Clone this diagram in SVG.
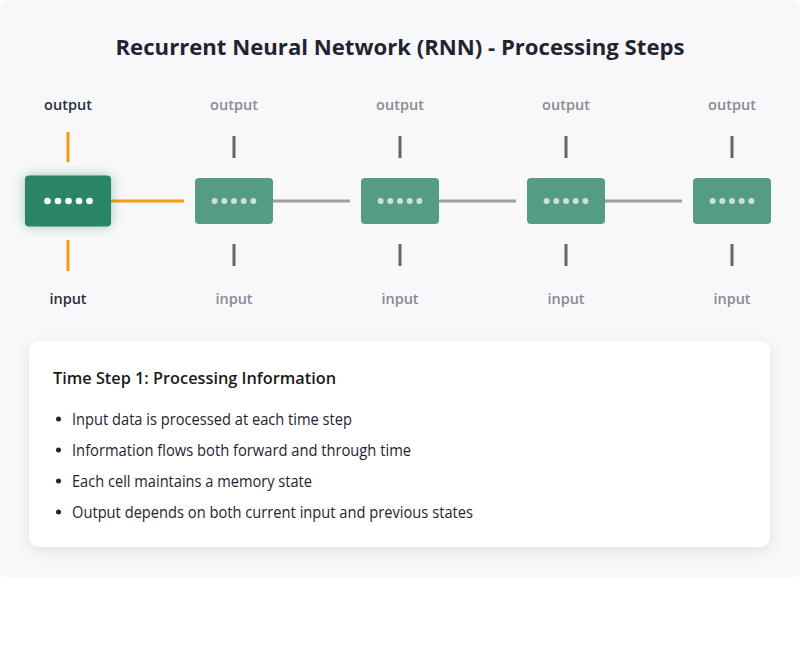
<svg xmlns="http://www.w3.org/2000/svg" width="800" height="659" viewBox="0 0 800 659">
<defs>
<style>
.title{font-family:"Open Sans","Noto Sans","Liberation Sans",sans-serif;font-weight:700;font-size:21.5px;fill:#1f2430}
.lbl{font-family:"Open Sans","Noto Sans","Liberation Sans",sans-serif;font-weight:600;font-size:14.5px;fill:#8a8a92;text-anchor:middle}
.lbl.act{fill:#2b2f3a}
.cell{fill:#2a8468;opacity:0.8}
.cell.act{opacity:1}
.dot{fill:#ffffff;opacity:0.7}
.act .dot{opacity:1}
.vline{stroke:#666666;stroke-width:3}
.vline.act{stroke:#f39c12}
.hline{stroke:#9e9e9e;stroke-width:3}
.hline.act{stroke:#f39c12}
.h3{font-family:"Open Sans","Noto Sans","Liberation Sans",sans-serif;font-weight:600;font-size:16.5px;fill:#1a1a1a}
.li{font-family:"Open Sans","Noto Sans","Liberation Sans",sans-serif;font-size:15.5px;fill:#1f2430}
.bul{fill:#1f2430}
</style>
<filter id="glow" x="-50%" y="-50%" width="200%" height="200%">
<feDropShadow dx="0" dy="0" stdDeviation="6" flood-color="#2a8468" flood-opacity="0.45"/>
</filter>
<filter id="shadow" x="-10%" y="-20%" width="120%" height="150%">
<feDropShadow dx="0" dy="4" stdDeviation="7" flood-color="#000000" flood-opacity="0.09"/>
</filter>
</defs>
<rect x="0" y="0" width="800" height="659" fill="#ffffff"/>
<rect x="0" y="0" width="800" height="578" rx="8" fill="#f8f8fb"/>
<text class="title" x="400" y="55" text-anchor="middle" textLength="569" lengthAdjust="spacingAndGlyphs">Recurrent Neural Network (RNN) - Processing Steps</text>

<g id="connectors">
<line class="hline act" x1="107" y1="201" x2="184" y2="201"/>
<line class="hline" x1="273" y1="201" x2="350" y2="201"/>
<line class="hline" x1="439" y1="201" x2="516" y2="201"/>
<line class="hline" x1="605" y1="201" x2="682" y2="201"/>
<line class="vline act" x1="68" y1="132" x2="68" y2="162"/>
<line class="vline act" x1="68" y1="240" x2="68" y2="271"/>
<line class="vline" x1="234" y1="136" x2="234" y2="158"/>
<line class="vline" x1="234" y1="244" x2="234" y2="266"/>
<line class="vline" x1="400" y1="136" x2="400" y2="158"/>
<line class="vline" x1="400" y1="244" x2="400" y2="266"/>
<line class="vline" x1="566" y1="136" x2="566" y2="158"/>
<line class="vline" x1="566" y1="244" x2="566" y2="266"/>
<line class="vline" x1="732" y1="136" x2="732" y2="158"/>
<line class="vline" x1="732" y1="244" x2="732" y2="266"/>
</g>

<g id="step1" class="act">
<text class="lbl act" x="68" y="110">output</text>
<rect class="cell act" x="25" y="175.5" width="86" height="51" rx="4" filter="url(#glow)"/>
<circle class="dot" cx="47.5" cy="201" r="3.3"/><circle class="dot" cx="58" cy="201" r="3.3"/><circle class="dot" cx="68.5" cy="201" r="3.3"/><circle class="dot" cx="79" cy="201" r="3.3"/><circle class="dot" cx="89.5" cy="201" r="3.3"/>
<text class="lbl act" x="68" y="304">input</text>
</g>
<g id="step2">
<text class="lbl" x="234" y="110">output</text>
<rect class="cell" x="195" y="178" width="78" height="46" rx="4"/>
<circle class="dot" cx="214.6" cy="201" r="3"/><circle class="dot" cx="224.3" cy="201" r="3"/><circle class="dot" cx="234" cy="201" r="3"/><circle class="dot" cx="243.7" cy="201" r="3"/><circle class="dot" cx="253.4" cy="201" r="3"/>
<text class="lbl" x="234" y="304">input</text>
</g>
<g id="step3">
<text class="lbl" x="400" y="110">output</text>
<rect class="cell" x="361" y="178" width="78" height="46" rx="4"/>
<circle class="dot" cx="380.6" cy="201" r="3"/><circle class="dot" cx="390.3" cy="201" r="3"/><circle class="dot" cx="400" cy="201" r="3"/><circle class="dot" cx="409.7" cy="201" r="3"/><circle class="dot" cx="419.4" cy="201" r="3"/>
<text class="lbl" x="400" y="304">input</text>
</g>
<g id="step4">
<text class="lbl" x="566" y="110">output</text>
<rect class="cell" x="527" y="178" width="78" height="46" rx="4"/>
<circle class="dot" cx="546.6" cy="201" r="3"/><circle class="dot" cx="556.3" cy="201" r="3"/><circle class="dot" cx="566" cy="201" r="3"/><circle class="dot" cx="575.7" cy="201" r="3"/><circle class="dot" cx="585.4" cy="201" r="3"/>
<text class="lbl" x="566" y="304">input</text>
</g>
<g id="step5">
<text class="lbl" x="732" y="110">output</text>
<rect class="cell" x="693" y="178" width="78" height="46" rx="4"/>
<circle class="dot" cx="712.6" cy="201" r="3"/><circle class="dot" cx="722.3" cy="201" r="3"/><circle class="dot" cx="732" cy="201" r="3"/><circle class="dot" cx="741.7" cy="201" r="3"/><circle class="dot" cx="751.4" cy="201" r="3"/>
<text class="lbl" x="732" y="304">input</text>
</g>

<g id="info">
<rect x="29" y="341" width="741" height="206" rx="10" fill="#ffffff" filter="url(#shadow)"/>
<text class="h3" x="53" y="384" textLength="283" lengthAdjust="spacingAndGlyphs">Time Step 1: Processing Information</text>
<circle class="bul" cx="58.5" cy="419" r="2.5"/>
<text class="li" x="72" y="424.5" textLength="280" lengthAdjust="spacingAndGlyphs">Input data is processed at each time step</text>
<circle class="bul" cx="58.5" cy="450" r="2.5"/>
<text class="li" x="72" y="455.5" textLength="339" lengthAdjust="spacingAndGlyphs">Information flows both forward and through time</text>
<circle class="bul" cx="58.5" cy="481" r="2.5"/>
<text class="li" x="72" y="486.5" textLength="240" lengthAdjust="spacingAndGlyphs">Each cell maintains a memory state</text>
<circle class="bul" cx="58.5" cy="512" r="2.5"/>
<text class="li" x="72" y="517.5" textLength="401" lengthAdjust="spacingAndGlyphs">Output depends on both current input and previous states</text>
</g>
</svg>
